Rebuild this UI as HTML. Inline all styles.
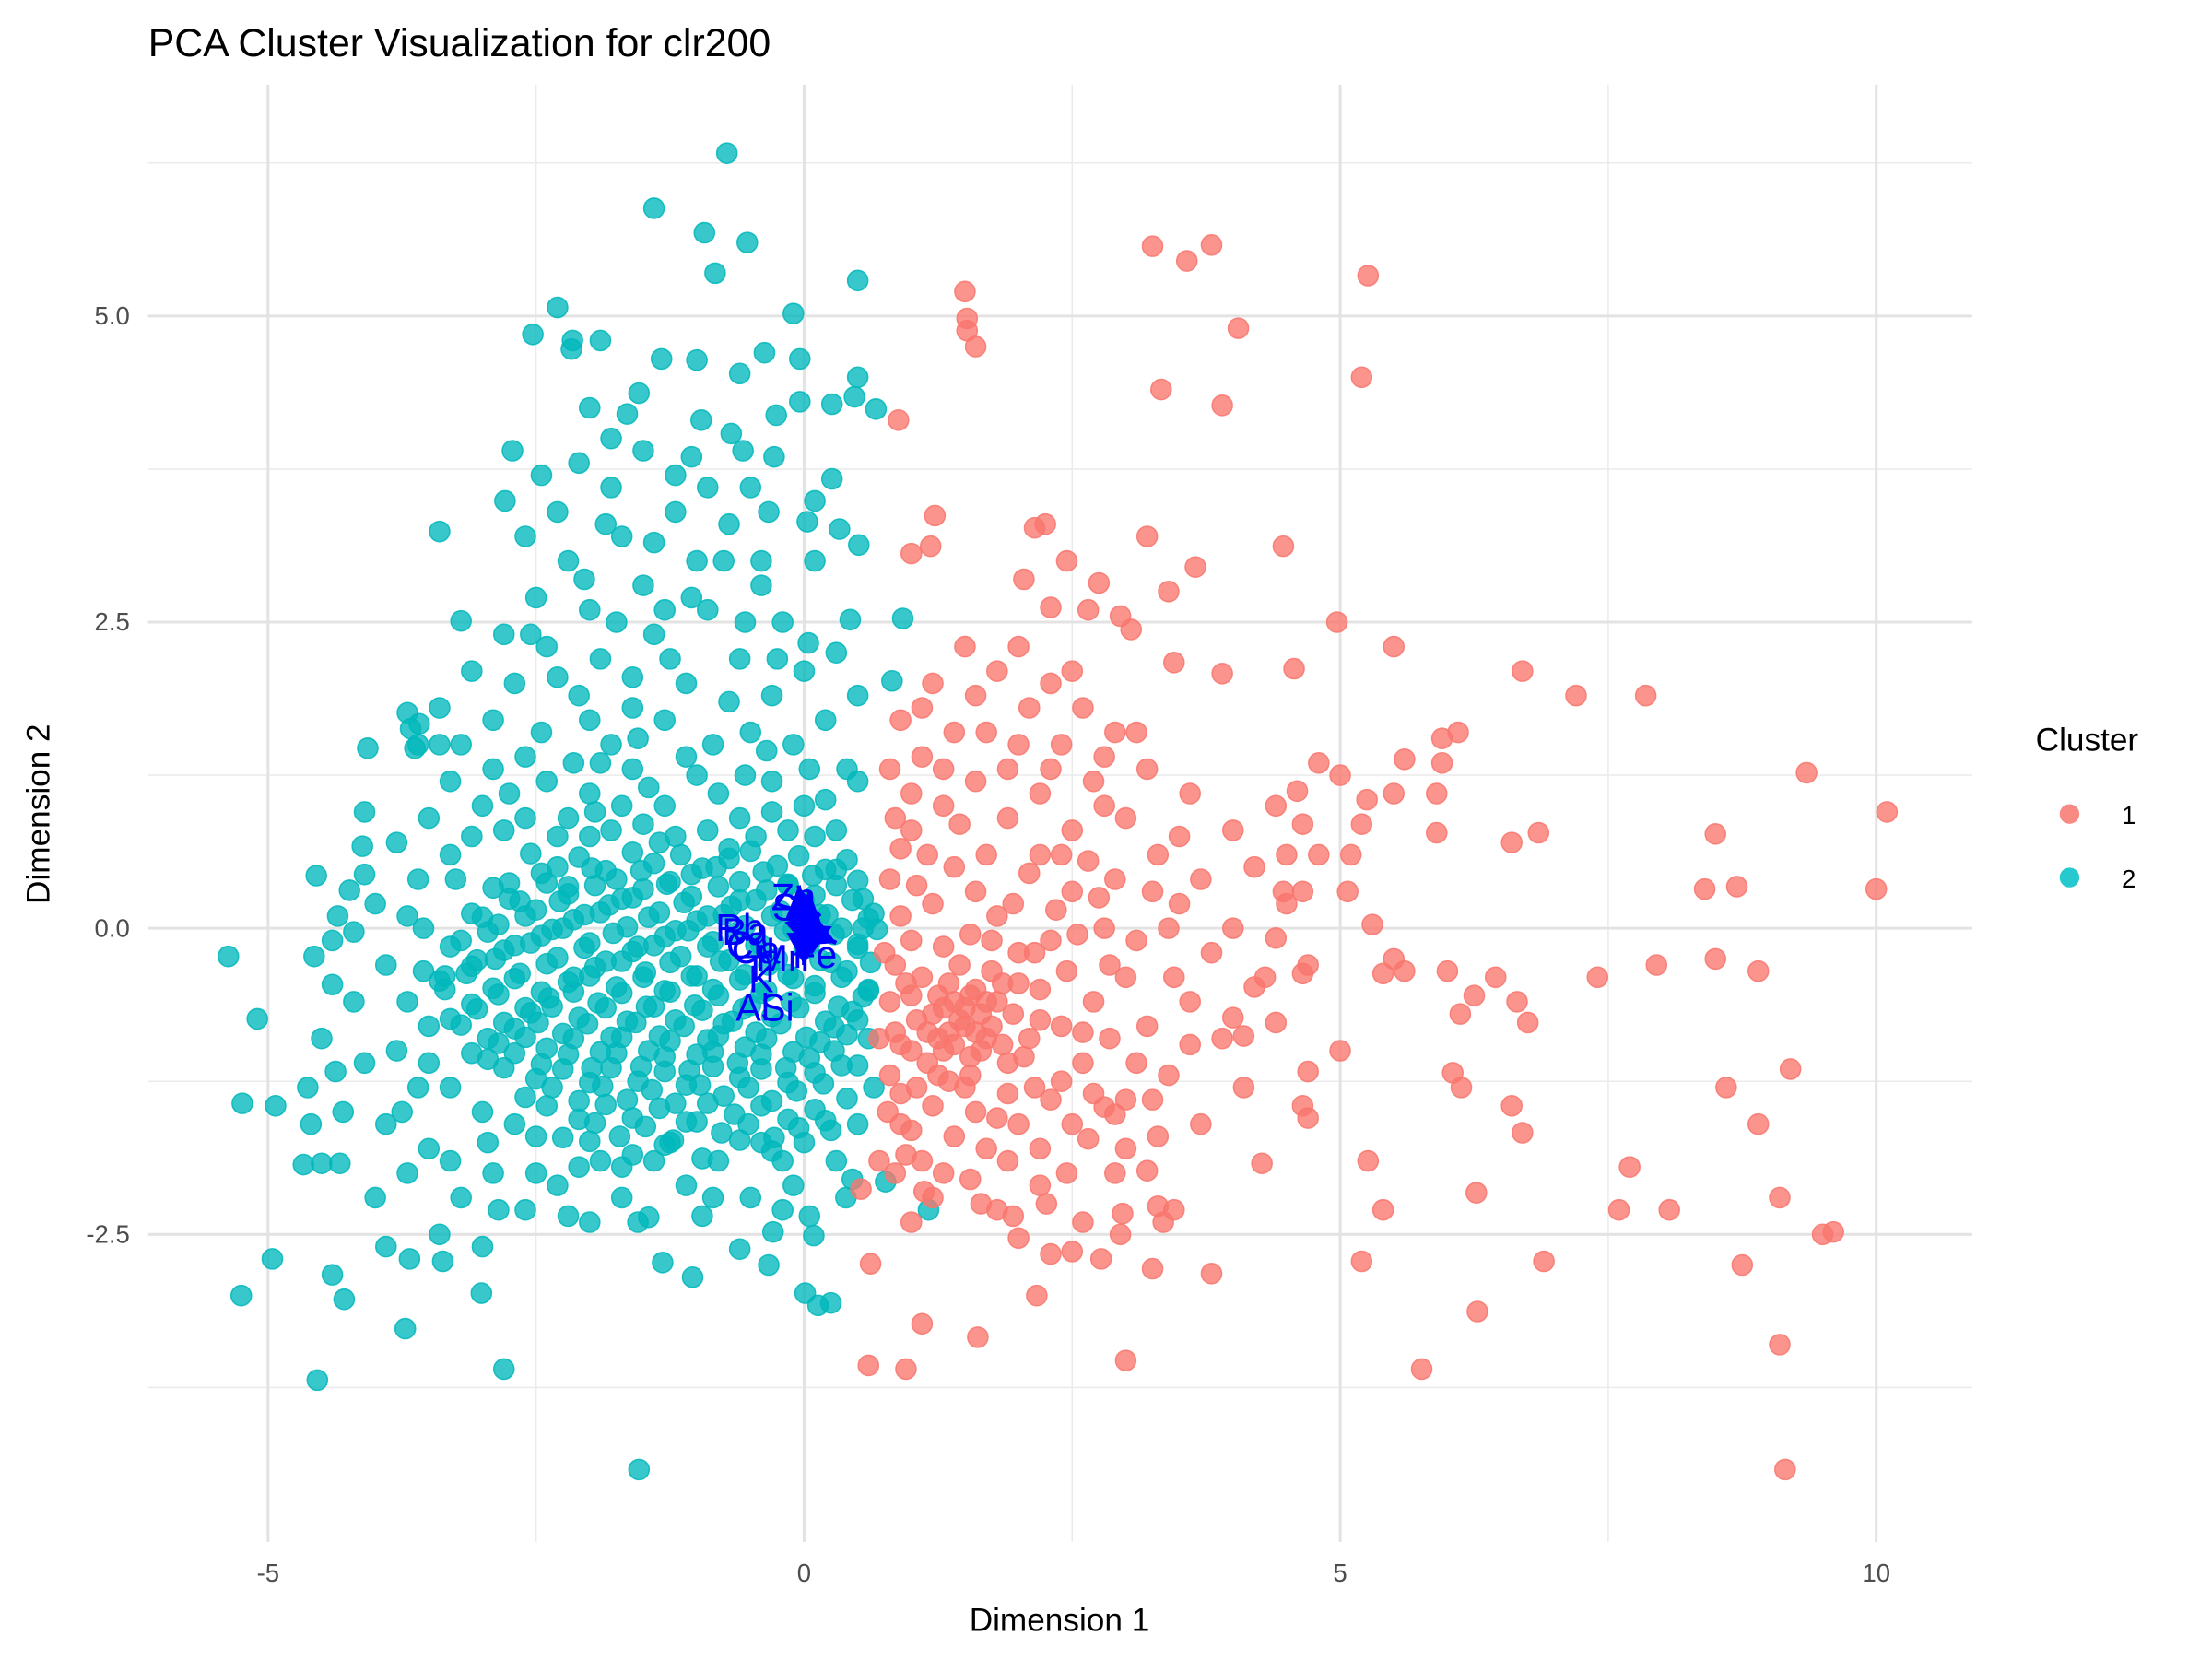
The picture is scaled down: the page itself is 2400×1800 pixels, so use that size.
<!DOCTYPE html>
<html><head><meta charset="utf-8"><style>
html,body{margin:0;padding:0;background:#fff;}
svg{display:block;font-family:"Liberation Sans",Arial,sans-serif;}
</style></head><body>
<svg id="chart" width="2400" height="1800" viewBox="0 0 1568 1176" xmlns="http://www.w3.org/2000/svg">
<rect x="0" y="0" width="1568" height="1176" fill="#fff"/>
<g id="grid"></g>
<g id="points"></g>
<g id="loadings"></g>
<g id="axes"></g>
<text x="105" y="40" font-size="28" fill="#000">PCA Cluster Visualization for clr200</text>
<text x="751" y="1156" font-size="23" text-anchor="middle" fill="#000">Dimension 1</text>
<text transform="translate(35,577) rotate(-90)" font-size="23" text-anchor="middle" fill="#000">Dimension 2</text>
<g>
<text x="1443" y="532" font-size="23" fill="#000">Cluster</text>
<g><circle cx="1467" cy="577" r="7" fill="#F8766D" opacity="0.85"/><text x="1504" y="584" font-size="18" fill="#000">1</text></g>
<g><circle cx="1467" cy="622" r="7" fill="#00BFC4" opacity="0.85"/><text x="1504" y="629" font-size="18" fill="#000">2</text></g>
</g>
</svg>
<script>
const xTicks = [-5, 0, 5, 10];
const xMinorTicks = [-2.5, 2.5, 7.5];
const yTicks = [-2.5, 0, 2.5, 5];
const yTickLabels = ["-2.5", "0.0", "2.5", "5.0"];
const yMinorTicks = [-3.75, -1.25, 1.25, 3.75, 6.25];

const clusterOne = [[10.1,0.95],[10.0,0.32],[9.35,1.27],[9.15,-4.42],[9.1,-3.4],[9.2,-1.15],[9.6,-2.48],[9.5,-2.5],[9.1,-2.2],[8.9,-1.6],[8.9,-0.35],[8.75,-2.75],[8.6,-1.3],[8.5,0.77],[8.5,-0.25],[8.4,0.32],[8.7,0.34],[7.85,1.9],[7.2,1.9],[7.7,-1.95],[7.6,-2.3],[8.07,-2.3],[7.95,-0.3],[7.4,-0.4],[6.9,-2.72],[6.7,2.1],[6.85,0.78],[6.6,0.7],[6.75,-0.77],[6.65,-0.6],[6.6,-1.45],[6.7,-1.67],[6.45,-0.4],[6.25,-0.55],[6.27,-2.16],[6.28,-3.13],[5.76,-3.6],[6.13,-1.3],[6.12,-0.7],[6.05,-1.18],[6.0,-0.35],[6.1,1.6],[5.95,1.55],[5.95,1.35],[5.9,1.1],[5.9,0.78],[5.5,1.1],[5.6,1.38],[5.5,2.3],[5.26,5.33],[5.2,4.5],[4.97,2.5],[5.0,-1.0],[5.2,-2.72],[5.26,-1.9],[5.4,-2.3],[5.4,-0.37],[5.5,-0.25],[5.6,-0.35],[5.3,0.03],[5.07,0.3],[5.1,0.6],[5.2,0.85],[5.25,1.05],[5.0,1.25],[4.8,1.35],[4.6,1.12],[4.65,0.85],[4.5,0.6],[4.65,0.3],[4.47,0.3],[4.4,-0.08],[4.65,-0.37],[4.7,-1.17],[4.65,-1.45],[4.7,-1.55],[4.27,-1.92],[4.4,-0.77],[4.2,-0.48],[4.0,-0.73],[4.1,-0.88],[4.05,4.9],[3.8,5.58],[3.57,5.45],[3.25,5.57],[3.33,4.4],[3.9,4.27],[4.47,3.12],[4.57,2.12],[3.65,2.95],[3.2,3.2],[3.4,2.75],[3.9,2.08],[3.45,2.17],[3.05,2.44],[2.95,2.55],[2.75,2.82],[2.45,3.0],[2.05,2.85],[2.3,2.62],[2.65,2.6],[2.25,3.3],[2.15,3.27],[1.22,3.37],[1.18,3.12],[1.0,3.06],[0.88,4.15],[1.5,5.2],[1.52,4.98],[1.52,4.88],[1.6,4.75],[3.8,-2.82],[3.25,-2.78],[3.0,-3.53],[2.95,-2.5],[3.2,-1.98],[3.3,-2.27],[3.35,-2.4],[3.45,-2.3],[2.77,-2.7],[2.97,-2.33],[2.5,-2.64],[2.3,-2.66],[2.17,-3.0],[1.95,-2.35],[2.0,-2.53],[1.62,-3.34],[1.1,-3.23],[0.95,-3.6],[0.6,-3.57],[0.62,-2.74],[0.53,-2.13],[1.12,-2.15],[1.65,-2.25],[2.26,-2.25],[2.65,-1.72],[2.8,-1.46],[2.9,-1.52],[3.0,-1.8],
[1.4,-0.6],[1.5,-0.8],[1.6,-0.5],[1.7,-0.9],[1.3,-1.0],[1.2,-0.7],[1.8,-0.6],[1.9,-1.1],[1.5,-1.3],[1.1,-0.4],[1.0,-0.1],[0.9,0.1],[1.2,0.2],[1.4,0.5],[1.6,0.3],[1.8,0.1],[2.0,-0.2],[2.2,-0.5],[2.4,-0.8],[2.6,-1.1],[2.3,-1.4],[2.0,-1.6],[1.7,-1.8],[1.4,-1.7],[1.1,-1.9],[0.9,-1.6],[0.8,-1.2],[0.8,-0.6],[0.75,-0.2],[0.8,0.4],[1.0,0.8],[1.3,1.0],[1.6,1.2],[1.9,0.9],[2.2,0.6],[2.5,0.3],[2.8,0.0],[3.0,-0.4],[3.2,-0.8],[3.4,-1.2],[3.6,-0.6],[3.8,-0.2],[3.5,0.2],[3.3,0.6],[3.0,0.9],[2.7,1.2],[2.4,1.5],[2.1,1.8],[1.8,2.1],[1.5,2.3],[1.2,2.0],[0.9,1.7],[0.8,1.3],[1.1,1.4],[2.0,2.3],[2.3,2.0],[2.6,1.8],[2.9,1.6],[3.2,1.3],[3.6,1.1],[4.0,0.8],[4.2,0.5],[4.0,0.0],[4.3,-0.4],[3.9,-0.9],[4.1,-1.3],[3.7,-1.6],[3.3,-1.7],[2.9,-2.0],[2.6,-2.4],[2.2,-2.1],[1.8,-2.3],[1.3,-2.0],[1.0,-2.4],[0.7,-1.9],[0.7,-0.9],[1.45,-0.3],[1.55,-1.05],[1.35,-0.45],[1.65,-0.7],[1.25,-0.9],[1.75,-0.35],[2.1,-0.9],[2.3,-0.1],[2.7,-0.6],[2.5,-1.6],[3.1,-1.1],[2.9,0.4],[3.7,0.4],[2.2,1.1],[1.7,1.6],[1.4,1.6],[1.9,1.3],[2.5,0.8],[2.8,1.0],[3.4,0.0],[4.5,0.2],[4.7,-0.3],[4.4,1.0],[4.8,0.6],
[1.45,-0.75],[1.55,-0.55],[1.35,-0.85],[1.65,-1.0],[1.25,-0.55],[1.75,-0.8],[1.85,-0.45],[1.15,-1.1],[1.05,-0.75],[0.95,-0.45],[0.85,-0.85],[0.9,-1.35],[1.2,-1.45],[1.0,-1.65],[0.85,-2.0],[1.35,-1.25],[1.6,-1.5],[1.9,-1.35],[2.05,-1.05],[2.2,-0.75],[2.0,-0.45],[2.15,-0.2],[1.95,0.2],[2.35,0.15],[2.1,0.45],[1.7,0.6],[1.45,0.85],[1.15,0.6],[0.9,0.65],[1.05,0.35],[1.3,-0.15],[1.55,-0.05],[1.75,-0.1],[0.85,-0.3],[1.0,-1.0],[2.45,-0.35],[2.55,-0.05],[2.75,0.25],[2.4,0.6],[2.65,0.55],[2.85,-0.3],[2.6,-0.85],[2.85,-0.9],[2.4,-1.25],[2.7,-1.35],[2.2,-1.8],[1.9,-1.9],[1.55,-2.05],[2.45,-2.0],[3.1,-0.1],[3.25,0.3],[3.5,0.75],[3.1,1.6],[2.5,2.1],[2.0,1.5],[1.6,1.9],[1.3,1.3],[1.0,1.1],[0.85,0.9],[1.1,1.8],[2.3,1.3],[2.8,1.4],[3.45,-0.4],[3.6,-0.95],[3.25,-1.4],[3.0,-1.4],
[1.5,-0.65],[1.6,-0.85],[1.4,-0.95],[1.3,-0.65],[1.7,-0.6],[1.55,-1.2],[1.25,-1.2],[1.85,-0.95],[1.15,-0.85],[1.95,-0.7],[1.05,-1.3],[1.8,-1.55],[2.15,-1.3],[1.0,-0.55],[0.9,-0.95],[0.78,-1.5],[0.95,-1.85],[1.2,-2.2]];

const clusterTwo = [[-1.54,-4.42],[-4.54,-3.69],[-2.8,-3.6],[-3.72,-3.27],[-5.25,-3.0],[-4.96,-2.7],[-4.4,-2.83],[-4.29,-3.03],[-3.01,-2.98],[-3.37,-2.72],[-3.68,-2.7],[-5.37,-0.23],[-5.1,-0.74],[-5.24,-1.43],[-4.93,-1.45],[-4.63,-1.3],[-4.57,-0.23],[-4.55,0.43],[-4.67,-1.93],[-4.5,-1.92],[-4.33,-1.92],[-4.37,-1.17],[-4.4,-0.46],[-4.2,-0.03],[-4.24,0.31],[-4.12,0.67],[-4.1,0.44],[-4.07,1.47],[-3.7,1.76],[-3.67,1.63],[-3.59,1.67],[-3.63,1.47],[-3.4,3.24],[-3.2,2.51],[-2.79,3.49],[-2.72,3.9],[-2.53,4.85],[-2.3,5.07],[-2.16,4.8],[-2.17,4.73],[-2.0,4.25],[-1.9,4.8],[-1.8,4.0],[-1.4,5.88],[-1.54,4.37],[-1.33,4.65],[-1.0,4.64],[-0.93,5.68],[-0.83,5.35],[-0.72,6.33],[-0.53,5.6],[-0.6,4.53],[-0.37,4.7],[-0.1,5.02],[-0.04,4.65],[-0.04,4.3],[-0.26,4.19],[0.5,5.29],[0.5,4.5],[0.47,4.34],[0.67,4.24],[0.26,4.28],[0.26,3.67],[-0.68,4.04],[-0.57,3.9],[-0.96,4.15],[-0.28,3.85],[-0.33,3.4],[0.03,3.32],[0.1,3.49],[0.33,3.26],[0.51,3.13],[0.92,2.53],[0.43,2.52],[0.82,2.02],[0.04,2.33],[-1.32,-2.73],[-1.04,-2.85],[-1.45,-2.36],[-0.6,-2.62],[-0.33,-2.75],[-0.29,-2.48],[0.09,-2.51],[0.01,-2.98],[0.13,-3.08],[0.25,-3.06],[-0.2,-2.3],[0.05,-2.35],[0.39,-2.2],[0.76,-2.07],[1.16,-2.3],
[-3.8,-1.0],[-3.6,-1.3],[-3.9,-1.6],[-3.7,-2.0],[-3.5,-1.8],[-3.2,-2.2],[-2.9,-2.0],[-2.6,-2.3],[-2.3,-2.1],[-2.0,-2.4],[-1.7,-2.2],[-1.4,-1.9],[-1.1,-2.1],[-0.8,-1.9],[-0.5,-2.2],[-0.2,-1.9],[0.3,-1.9],[0.5,-1.6],[-3.9,-0.3],[-3.7,0.1],[-3.6,0.4],[-3.8,0.7],[-3.5,0.9],[-3.3,1.2],[-3.0,1.0],[-2.8,0.8],[-3.2,1.5],[-2.9,1.7],[-2.6,1.4],[-2.4,1.2],[-2.2,0.9],[-2.0,1.1],[-1.8,0.8],[-1.6,1.3],[-1.3,1.0],[-1.1,1.4],[-0.8,1.1],[-0.6,0.9],[-0.3,1.2],[0.0,1.0],[0.3,0.8],[0.5,1.2],[-2.7,2.0],[-2.4,2.3],[-2.1,1.9],[-1.9,2.2],[-1.6,1.8],[-1.4,2.4],[-1.1,2.0],[-0.9,2.6],[-0.6,2.2],[-0.3,1.9],[0.0,2.1],[0.2,1.7],[-2.5,2.7],[-2.2,3.0],[-2.0,2.6],[-1.7,3.2],[-1.5,2.8],[-1.2,3.4],[-1.0,3.0],[-0.7,3.3],[-0.4,2.8],[-2.3,3.4],[-2.1,3.8],[-1.8,3.6],[-1.5,3.9],[-1.2,3.7],[-0.9,3.6],[-2.6,3.2],[-2.8,2.4],[-3.1,2.1],[-3.4,1.8],[-3.6,1.5],[-4.0,0.2],[-4.2,-0.6],[-4.1,-1.1],[-4.3,-1.5],[-4.0,-2.2],[-3.4,-2.5],[-3.0,-2.6],[-2.5,-2.0],[-1.9,-1.9],[0.6,-0.9],[0.65,-1.3],[0.55,0.0],[0.6,-0.5],[-0.4,3.0],[-0.2,2.5],[0.1,3.0],[-1.3,2.6],[-1.8,1.5],[-2.9,1.3],[-3.3,0.6],[-4.4,-0.1],[-4.5,-0.9],[-4.6,-1.6],[-3.9,-2.6],[-3.5,-1.1],[-3.0,-1.5],[-2.7,-1.6],[-0.1,1.5],[0.4,1.3],[-0.5,1.6],
[-2.3,0.75],[-1.95,0.95],[-1.5,0.85],[-1.2,0.75],[-0.9,0.8],[-0.45,0.75],[-0.15,0.8],[0.2,1.05],[-1.0,1.25],[-1.45,1.15],[-2.15,1.35],[-2.75,1.1],[-2.45,1.6],[-2.0,1.7],[-1.3,1.7],[-0.85,1.5],[-0.35,1.45],[0.05,1.3],[-0.7,1.85],[-1.25,2.2],[-1.75,2.5],[-2.3,2.05],[-0.25,2.2],[-1.6,2.05],[-2.05,2.85],[-1.05,2.7],[-0.55,2.5],[-1.85,3.3],[-1.4,3.15],[-0.75,3.0],[-2.45,3.7],[-1.65,4.2],[-1.05,3.85],[-0.5,3.6],[0.3,2.25],[0.5,1.9],[-3.1,0.75],[-3.7,-0.6],[-3.75,-1.5],[-3.3,-1.9],[-2.85,-2.3],[-2.2,-2.35],[-1.55,-2.4],[-0.95,-2.35],[-0.4,-1.75],[-3.55,0.0],[-4.35,0.1],[-4.1,0.95],[-3.4,1.5],[-2.55,2.4],
[-2.6,0.9],[-2.0,0.75],[-1.7,1.0],[-1.35,0.7],[-0.7,0.65],[-0.3,0.95],[0.1,0.75],[-1.9,1.35],[-1.55,1.55],[-0.55,1.25],[-3.25,0.4],[-3.55,-0.35],[-3.5,-0.8],[-3.3,-1.3],[-2.95,-1.75],[-2.5,-1.7],[-2.1,-1.95],[-1.7,-1.95],[-1.25,-1.75],[-0.85,-2.2],[-0.1,-2.1],[0.25,-1.65],[0.45,-2.05]];

const clusterTwoCoreRows = [
 [0.55,[-2.55,-2.3,-2.1,-1.85,-1.6,-1.4,-1.15,-0.95,-0.7,-0.5,-0.25,-0.05,0.2,0.4]],
 [0.42,[-2.75,-2.45,-2.2,-1.98,-1.75,-1.52,-1.28,-1.05,-0.82,-0.6,-0.38,-0.15,0.08,0.3,0.5]],
 [0.3,[-2.9,-2.65,-2.4,-2.2,-1.95,-1.7,-1.5,-1.25,-1.05,-0.8,-0.6,-0.35,-0.15,0.1,0.3,0.55]],
 [0.17,[-3.0,-2.75,-2.5,-2.28,-2.05,-1.82,-1.6,-1.35,-1.12,-0.9,-0.68,-0.45,-0.22,0.0,0.22,0.45,0.65]],
 [0.05,[-3.1,-2.85,-2.6,-2.35,-2.15,-1.9,-1.65,-1.45,-1.2,-1.0,-0.75,-0.55,-0.3,-0.1,0.15,0.35,0.6]],
 [-0.08,[-3.2,-2.95,-2.7,-2.45,-2.25,-2.0,-1.78,-1.55,-1.3,-1.08,-0.85,-0.62,-0.4,-0.18,0.05,0.28,0.5,0.68]],
 [-0.2,[-3.3,-3.05,-2.8,-2.55,-2.3,-2.05,-1.85,-1.6,-1.4,-1.15,-0.9,-0.7,-0.45,-0.25,0.0,0.25,0.5]],
 [-0.33,[-3.35,-3.1,-2.88,-2.65,-2.4,-2.15,-1.95,-1.7,-1.48,-1.25,-1.0,-0.78,-0.55,-0.33,-0.1,0.15,0.4,0.62]],
 [-0.45,[-3.4,-3.15,-2.9,-2.7,-2.45,-2.2,-2.0,-1.75,-1.5,-1.3,-1.05,-0.85,-0.6,-0.4,-0.15,0.1,0.35,0.6]],
 [-0.58,[-3.35,-3.1,-2.85,-2.6,-2.38,-2.15,-1.92,-1.7,-1.47,-1.25,-1.02,-0.8,-0.57,-0.35,-0.12,0.1,0.32,0.55]],
 [-0.7,[-3.3,-3.05,-2.8,-2.55,-2.35,-2.1,-1.85,-1.65,-1.4,-1.2,-0.95,-0.75,-0.5,-0.3,-0.05,0.2,0.45]],
 [-0.83,[-3.2,-2.95,-2.7,-2.48,-2.25,-2.02,-1.8,-1.57,-1.35,-1.12,-0.9,-0.67,-0.45,-0.22,0.02,0.28,0.5]],
 [-0.95,[-3.1,-2.85,-2.6,-2.4,-2.15,-1.9,-1.7,-1.45,-1.25,-1.0,-0.8,-0.55,-0.35,-0.1,0.15,0.4]],
 [-1.08,[-2.95,-2.7,-2.45,-2.2,-1.98,-1.75,-1.52,-1.3,-1.07,-0.85,-0.62,-0.4,-0.17,0.05,0.28,0.5]],
 [-1.2,[-2.8,-2.5,-2.25,-2.0,-1.8,-1.55,-1.3,-1.1,-0.85,-0.6,-0.4,-0.15,0.1,0.35]],
 [-1.35,[-2.6,-2.35,-2.1,-1.88,-1.65,-1.42,-1.2,-0.97,-0.75,-0.52,-0.3,-0.07,0.18,0.4]],
 [-1.5,[-2.4,-2.1,-1.85,-1.6,-1.35,-1.1,-0.9,-0.65,-0.4,-0.15,0.1]],
 [-1.65,[-2.25,-1.95,-1.72,-1.48,-1.22,-1.0,-0.77,-0.52,-0.28,-0.05,0.2]],
 [-1.8,[-2.0,-1.6,-1.3,-0.95,-0.6,-0.3,0.0]]
];
const coreJitter = [0.06,-0.05,0.03,-0.08,0.07,-0.02,0.05,-0.06,0.02,0.08,-0.04,0.04,-0.07,0.01,0.06,-0.03,0.05,-0.06];

const loadingNames = ["Zn","Sr","Rb","Ba","Cu","Ca","Mn","Ti","K","Al","Si","Fe"];
const loadingX = [-0.1,-0.12,-0.6,-0.55,-0.5,-0.45,-0.2,-0.42,-0.4,-0.48,-0.25,0.1];
const loadingY = [0.25,0.17,0.0,-0.03,-0.14,-0.18,-0.25,-0.33,-0.42,-0.65,-0.65,-0.22];
const arrowX = [-0.05,0.05,0.15,0.3,0.0,-0.08];
const arrowY = [0.35,0.3,0.12,-0.12,-0.3,0.05];

const NS = "http://www.w3.org/2000/svg";
const X0 = 570, XS = 76, Y0 = 658, YS = 86.8;
const PL = 105, PR = 1398, PT = 60, PB = 1093;
function sx(v){ return X0 + v*XS; }
function sy(v){ return Y0 - v*YS; }
function mk(tag, attrs, parent){ const e=document.createElementNS(NS,tag); for(const k in attrs) e.setAttribute(k,attrs[k]); parent.appendChild(e); return e; }

const grid = document.getElementById('grid');
xMinorTicks.forEach(t=>{ const l=mk('line',{x1:sx(t),x2:sx(t),y1:PT,y2:PB,stroke:'#ebebeb','stroke-width':1},grid);

 });
yMinorTicks.forEach(t=>{ const l=mk('line',{x1:PL,x2:PR,y1:sy(t),y2:sy(t),stroke:'#ebebeb','stroke-width':1},grid);

 });
xTicks.forEach(t=>{ const l=mk('line',{x1:sx(t),x2:sx(t),y1:PT,y2:PB,stroke:'#e3e3e3','stroke-width':2},grid);

 });
yTicks.forEach(t=>{ const l=mk('line',{x1:PL,x2:PR,y1:sy(t),y2:sy(t),stroke:'#e3e3e3','stroke-width':2},grid);

 });

const axes = document.getElementById('axes');
xTicks.forEach(t=>{ const e=mk('text',{x:sx(t),y:1121,'font-size':18,'text-anchor':'middle',fill:'#4d4d4d'},axes); e.textContent=String(t);

 });
yTicks.forEach((t,i)=>{ const e=mk('text',{x:92,y:sy(t)+6,'font-size':18,'text-anchor':'end',fill:'#4d4d4d'},axes); e.textContent=yTickLabels[i];

 });

const pts = document.getElementById('points');
function dot(x,y,color,name){ const c=mk('circle',{cx:sx(x),cy:sy(y),r:7.2,fill:color,'fill-opacity':0.78,stroke:color,'stroke-opacity':0.85,'stroke-width':1},pts);

 }
clusterTwo.forEach(p=>dot(p[0],p[1],'#00B7BB','cluster-2-point'));
clusterTwoCoreRows.forEach((row,ri)=>{ row[1].forEach((x,i)=>{ dot(x,row[0]+coreJitter[(i+ri)%coreJitter.length],'#00B7BB','cluster-2-point'); }); });
clusterOne.forEach(p=>dot(p[0],p[1],'#F8766D','cluster-1-point'));

const ld = document.getElementById('loadings');
arrowX.forEach((ax,i)=>{ const x2=sx(ax), y2=sy(arrowY[i]);
const l=mk('line',{x1:sx(0),y1:sy(0),x2:x2,y2:y2,stroke:'#0000ff','stroke-width':3},ld);


const ang=Math.atan2(y2-sy(0),x2-sx(0)); const s=26;
const p1=[x2,y2], p2=[x2-s*Math.cos(ang-0.5),y2-s*Math.sin(ang-0.5)], p3=[x2-s*Math.cos(ang+0.5),y2-s*Math.sin(ang+0.5)];
const h=mk('polygon',{points:p1.join(',')+' '+p2.join(',')+' '+p3.join(','),fill:'#0000ff'},ld);

 });
loadingNames.forEach((n,i)=>{ const t=mk('text',{x:sx(loadingX[i]),y:sy(loadingY[i])+9,'font-size':27,'text-anchor':'middle',fill:'#0000ff'},ld); t.textContent=n;

 });
</script>
</body></html>
